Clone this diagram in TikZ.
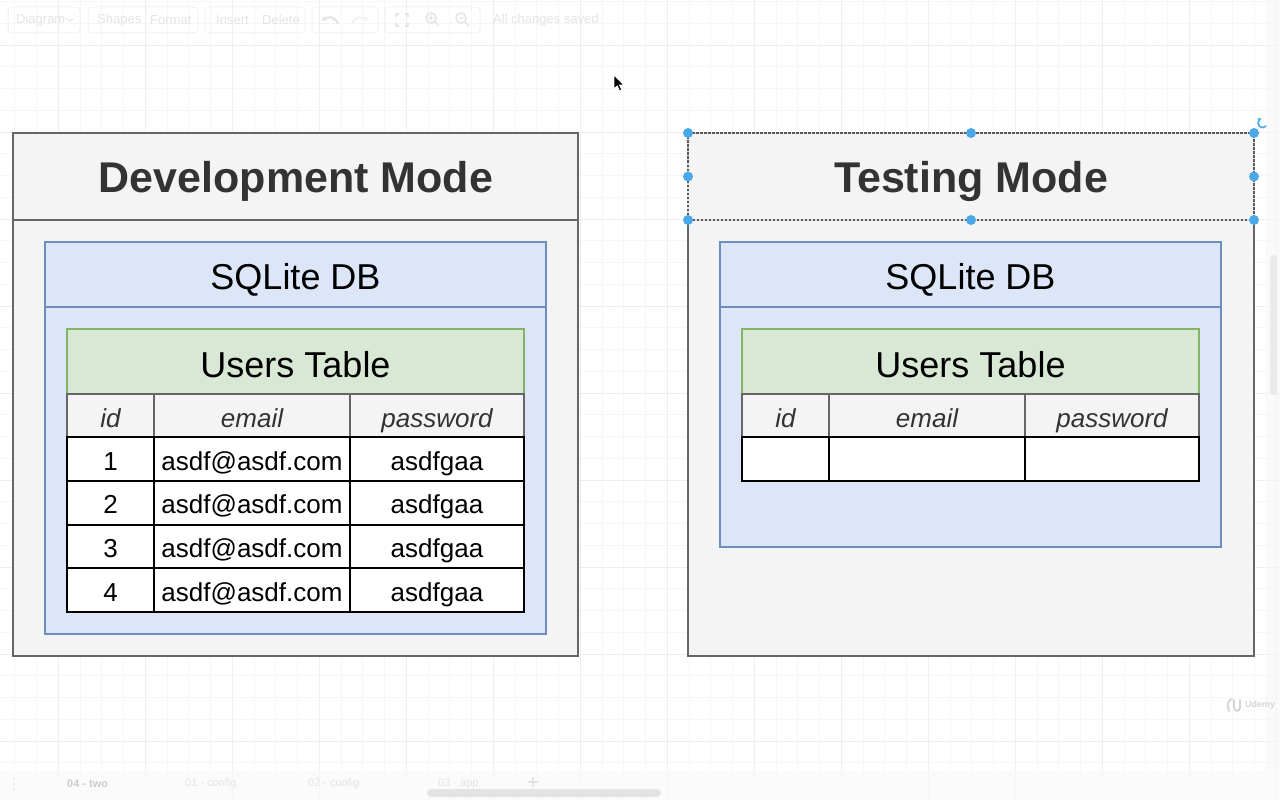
\documentclass[tikz,border=0pt]{standalone}
\usepackage{fontspec}
\setmainfont{Liberation Sans}
\usetikzlibrary{arrows.meta,calc}
\definecolor{gridminor}{HTML}{F6F6F6}
\definecolor{gridmajor}{HTML}{EEEEEE}
\definecolor{cgray}{HTML}{666666}
\definecolor{cpanel}{HTML}{F4F4F4}
\definecolor{cdbline}{HTML}{6C8EBF}
\definecolor{cdbfill}{HTML}{DCE6F8}
\definecolor{cgrline}{HTML}{82B366}
\definecolor{cgrfill}{HTML}{D9E8D4}
\definecolor{ctext}{HTML}{333333}
\definecolor{chandle}{HTML}{4AA8E8}
\definecolor{cfaint}{HTML}{E4E4E4}
\definecolor{cfaintline}{HTML}{F2F2F2}
\begin{document}
\begin{tikzpicture}[x=1pt,y=-1pt,
  nw/.style={anchor=north west, inner sep=0pt, outer sep=0pt},
  modebox/.style={nw, draw=cgray, fill=cpanel, line width=2pt},
  dbbox/.style={nw, draw=cdbline, fill=cdbfill, line width=2pt},
  tblhead/.style={nw, draw=cgrline, fill=cgrfill, line width=2pt, font=\fontsize{36}{40}\selectfont, text=black, text height=31pt, text depth=0pt},
  colhead/.style={nw, draw=cgray, fill=cpanel, line width=1.5pt, font=\fontsize{26}{30}\selectfont\itshape, text=ctext, text height=23pt, text depth=0pt},
  cell/.style={nw, draw=black, fill=white, line width=2pt, font=\fontsize{26}{30}\selectfont, text=black, text height=22.5pt, text depth=0pt},
  titletext/.style={font=\fontsize{43}{48}\selectfont\bfseries, text=ctext, text height=31pt, text depth=0pt, inner sep=0pt},
  dbtext/.style={font=\fontsize{36}{40}\selectfont, text=black, text height=26pt, text depth=0pt, inner sep=0pt},
  handle/.style={circle, fill=chandle, inner sep=0pt, minimum size=10pt},
  faint/.style={text=cfaint, inner sep=0pt, font=\fontsize{13}{15}\selectfont},
  btn/.style={nw, draw=cfaintline, rounded corners=4pt, line width=1pt}
]
\useasboundingbox (0,0) rectangle (1280,800);
\fill[white] (0,0) rectangle (1280,800);
% grid
\foreach \i in {0,...,58} {
  \draw[gridminor, line width=0.8pt] ({14.8+\i*21.75},0) -- ({14.8+\i*21.75},800);
}
\foreach \i in {0,...,36} {
  \draw[gridminor, line width=0.8pt] (0,{1.5+\i*21.75}) -- (1280,{1.5+\i*21.75});
}
\foreach \i in {0,...,14} {
  \draw[gridmajor, line width=0.8pt] ({58.3+\i*87},0) -- ({58.3+\i*87},800);
}
\foreach \i in {0,...,9} {
  \draw[gridmajor, line width=0.8pt] (0,{45+\i*87}) -- (1280,{45+\i*87});
}
% right panel and scrollbar
\fill[white!97!black, opacity=0.6] (1265,0) rectangle (1280,770);
\fill[white!92!black, rounded corners=3pt] (1270,255) rectangle (1277,395);
% bottom bar
\fill[white!98!black, opacity=0.8] (0,770) rectangle (1280,800);
\fill[white!89!black, rounded corners=4pt] (427,789) rectangle (661,797);

% ---- toolbar (faint) ----
\node[btn, minimum width=72pt, minimum height=26pt] (tb1) at (8,7) {};
\node[btn, minimum width=110pt, minimum height=26pt] (tb2) at (88,7) {};
\node[btn, minimum width=100pt, minimum height=26pt] (tb3) at (205,7) {};
\node[btn, minimum width=66pt, minimum height=26pt] (tb4) at (312,7) {};
\node[btn, minimum width=95pt, minimum height=26pt] (tb5) at (385,7) {};
\node[faint, anchor=west] (tDiagram) at (16,20) {Diagram};
\draw[cfaint, line width=1pt] (67,18.5) -- (70,21.5) -- (73,18.5);
\node[faint, anchor=west] (tShapes) at (97,20) {Shapes};
\node[faint, anchor=west] (tFormat) at (150,20) {Format};
\node[faint, anchor=west] (tInsert) at (216,20) {Insert};
\node[faint, anchor=west] (tDelete) at (262,20) {Delete};
\draw[cfaint, line width=2pt, -{Stealth[length=5pt,width=6pt]}] (338,24) .. controls (335,16) and (328,16) .. (322,21);
\draw[cfaintline, line width=2pt, -{Stealth[length=5pt,width=6pt]}] (352,24) .. controls (355,16) and (362,16) .. (368,21);
\draw[cfaint, line width=1.4pt] (396,17) -- (396,14) -- (399,14) (405,14) -- (408,14) -- (408,17) (408,23) -- (408,26) -- (405,26) (399,26) -- (396,26) -- (396,23);
\draw[cfaint, line width=1.4pt] (431,18) circle[radius=5] (434.5,21.5) -- (439,26) (428.5,18) -- (433.5,18) (431,15.5) -- (431,20.5);
\draw[cfaint, line width=1.4pt] (461,18) circle[radius=5] (464.5,21.5) -- (469,26) (458.5,18) -- (463.5,18);
\node[faint, anchor=west] (tSaved) at (493,20) {All changes saved};

% ---- bottom tabs (faint) ----
\fill[cfaint] (14,779) circle[radius=1] (14,784) circle[radius=1] (14,789) circle[radius=1];
\node[faint, anchor=west, text=white!80!black, font=\fontsize{11}{13}\selectfont\bfseries] (tab4) at (67,784) {04 - two};
\node[faint, anchor=west, font=\fontsize{11}{13}\selectfont] (tab1) at (185,784) {01 - config};
\node[faint, anchor=west, font=\fontsize{11}{13}\selectfont] (tab2) at (308,784) {02 - config};
\node[faint, anchor=west, font=\fontsize{11}{13}\selectfont] (tab3) at (438,784) {03 - app};
\draw[cfaint, line width=1.5pt] (528,782) -- (538,782) (533,777) -- (533,787);

% ---- Udemy mark (faint) ----
\draw[white!84!black, line width=2pt, line cap=round] (1229,711) .. controls (1226,705) and (1229,699) .. (1232,699) (1234,700) -- (1234,707) .. controls (1234,712) and (1240,712) .. (1240,707) -- (1240,700);
\node[faint, anchor=west, text=white!84!black, font=\fontsize{9}{11}\selectfont\bfseries] (udemy) at (1245,705.5) {Udemy};

% ================= Development Mode =================
\node[modebox, minimum width=565pt, minimum height=523pt] (dev) at (13,133) {};
\draw[cgray, line width=2pt] ([yshift=-87pt]dev.north west) coordinate (devdl) -- ([yshift=-87pt]dev.north east) coordinate (devdr);
\node[titletext] (devtitle) at (296,177) {Development Mode};
\node[dbbox, minimum width=501pt, minimum height=392pt] (devdb) at (45,242) {};
\draw[cdbline, line width=2pt] ([yshift=-65pt]devdb.north west) -- ([yshift=-65pt]devdb.north east);
\node[dbtext] (devdbt) at (295.5,276.5) {SQLite DB};
\node[tblhead, minimum width=457pt, minimum height=65pt] (devut) at (67,329) {Users Table};
\node[colhead, minimum width=87pt, minimum height=43pt] (devh1) at (67,394) {id};
\node[colhead, minimum width=196pt, minimum height=43pt] (devh2) at (154,394) {email};
\node[colhead, minimum width=174pt, minimum height=43pt] (devh3) at (350,394) {password};
\foreach \r in {1,...,4} {
  \pgfmathsetmacro\yy{437+(\r-1)*43.75}
  \node[cell, minimum width=87pt, minimum height=43.75pt] (devc\r a) at (67,\yy) {\r};
  \node[cell, minimum width=196pt, minimum height=43.75pt] (devc\r b) at (154,\yy) {asdf@asdf.com};
  \node[cell, minimum width=174pt, minimum height=43.75pt] (devc\r c) at (350,\yy) {asdfgaa};
}

% ================= Testing Mode =================
\node[modebox, minimum width=566pt, minimum height=523pt] (tst) at (688,133) {};
\draw[cgray, line width=2pt] ([yshift=-87pt]tst.north west) coordinate (tstdl) -- ([yshift=-87pt]tst.north east) coordinate (tstdr);
\node[titletext] (tsttitle) at (971,177) {Testing Mode};
\node[dbbox, minimum width=501pt, minimum height=305pt] (tstdb) at (720,242) {};
\draw[cdbline, line width=2pt] ([yshift=-65pt]tstdb.north west) -- ([yshift=-65pt]tstdb.north east);
\node[dbtext] (tstdbt) at (970.5,276.5) {SQLite DB};
\node[tblhead, minimum width=457pt, minimum height=65pt] (tstut) at (742,329) {Users Table};
\node[colhead, minimum width=87pt, minimum height=43pt] (tsth1) at (742,394) {id};
\node[colhead, minimum width=196pt, minimum height=43pt] (tsth2) at (829,394) {email};
\node[colhead, minimum width=174pt, minimum height=43pt] (tsth3) at (1025,394) {password};
\node[cell, minimum width=87pt, minimum height=44pt] (tstc1a) at (742,437) {};
\node[cell, minimum width=196pt, minimum height=44pt] (tstc1b) at (829,437) {};
\node[cell, minimum width=174pt, minimum height=44pt] (tstc1c) at (1025,437) {};

% selection of the Testing Mode header
\draw[white!75!gray, line width=2pt] (tst.north west) -- (tst.north east) -- (tstdr) -- (tstdl) -- cycle;
\draw[white!35!black, line width=1.4pt, dash pattern=on 2.5pt off 1.5pt] (tst.north west) -- (tst.north east) -- (tstdr) -- (tstdl) -- cycle;
\node[handle] (hs1) at (tst.north west) {};
\node[handle] (hs2) at (tst.north) {};
\node[handle] (hs3) at (tst.north east) {};
\node[handle] (hs4) at ($(tst.north west)!0.5!(tstdl)$) {};
\node[handle] (hs5) at ($(tst.north east)!0.5!(tstdr)$) {};
\node[handle] (hs6) at (tstdl) {};
\node[handle] (hs7) at ($(tstdl)!0.5!(tstdr)$) {};
\node[handle] (hs8) at (tstdr) {};
\draw[chandle, line width=1.6pt, -{Stealth[length=3.5pt,width=4.5pt]}] (1266,126) arc[start angle=-40, end angle=-250, radius=4.5pt];

% mouse cursor
\draw[white, fill=black, line width=0.8pt, line join=round] (614,75) -- (614,89) -- (617.3,85.8) -- (619.6,91) -- (621.8,90) -- (619.5,85) -- (624,85) -- cycle;
\end{tikzpicture}
\end{document}
